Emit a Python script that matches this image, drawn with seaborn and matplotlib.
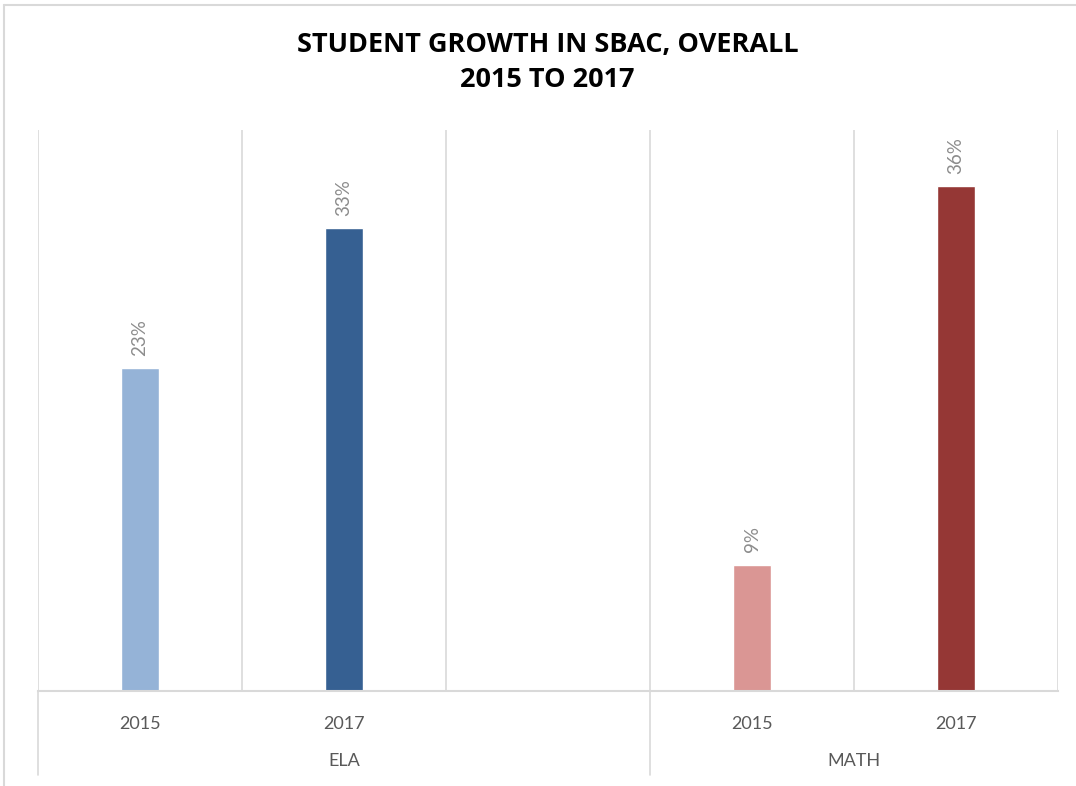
import pandas as pd
import matplotlib
matplotlib.use("Agg")
import matplotlib.pyplot as plt
import seaborn as sns
import numpy as np

# datos
materias = ["ELA", "ELA", "MATH", "MATH"]
anios = ["2015", "2017", "2015", "2017"]
porcentajes = [23, 33, 9, 36]
colores = ["#95B3D7", "#366092", "#DA9694", "#953735"]

# ranuras del eje x (una vacia entre ELA y MATH)
ranuras = ["ELA 2015", "ELA 2017", "", "MATH 2015", "MATH 2017"]
etiquetas_x = ["2015", "2017", "", "2015", "2017"]
grupos = ["ELA", "MATH"]

df = pd.DataFrame({
    "ranura": [m + " " + a for m, a in zip(materias, anios)],
    "valor": porcentajes,
})

sns.set_theme(style="white")
plt.rcParams["font.family"] = ["Lato", "DejaVu Sans"]

fig = plt.figure(figsize=(10.76, 7.86), dpi=100)
ax = fig.add_axes([0.0353, 0.1209, 0.948, 0.7137])

sns.barplot(data=df, x="ranura", y="valor", hue="ranura", order=ranuras,
            hue_order=df["ranura"].tolist(), palette=colores, width=0.186,
            legend=False, saturation=1, ax=ax)

for cont in ax.containers:
    ax.bar_label(cont, fmt="%.0f%%", rotation=90, padding=9,
                 fontsize=13.5, color="#8C8C8C")

ax.set_ylim(0, 40)
ax.set_xlim(-0.5, 4.5)
ax.set_yticks([])
ax.set_xlabel("")
ax.set_ylabel("")
ax.set_xticks(range(len(ranuras)))
ax.set_xticklabels(etiquetas_x, fontsize=13, color="#595959")
ax.tick_params(axis="x", length=0, pad=18)

# lineas verticales entre categorias
ax.set_xticks(np.arange(-0.5, len(ranuras)), minor=True)
ax.tick_params(axis="x", which="minor", length=0)
ax.grid(which="minor", axis="x", color="#D9D9D9", linewidth=1.2)
ax.grid(which="major", axis="x", visible=False)
ax.set_axisbelow(True)

for lado in ["top", "right", "left"]:
    ax.spines[lado].set_visible(False)
ax.spines["bottom"].set_color("#D9D9D9")
ax.spines["bottom"].set_linewidth(1.5)

# etiquetas de grupo y separadores
trans = ax.get_xaxis_transform()
for x, g in zip([1.0, 3.5], grupos):
    ax.text(x, -0.125, g, transform=trans, ha="center", va="center",
            fontsize=13, color="#595959")
for x in [-0.5, 2.5]:
    ax.plot([x, x], [0, -0.15], transform=trans, color="#D9D9D9",
            linewidth=1.2, clip_on=False)

fig.text(0.509, 0.920, "STUDENT GROWTH IN SBAC, OVERALL\n2015 TO 2017",
         ha="center", va="center", fontsize=19.5, fontweight="bold",
         color="black", linespacing=1.45, family=["Open Sans", "DejaVu Sans"])

# marco del grafico
fig.add_artist(plt.Line2D([0.004, 0.004], [0, 0.994], color="#D9D9D9", linewidth=1.5))
fig.add_artist(plt.Line2D([0.004, 1], [0.994, 0.994], color="#D9D9D9", linewidth=1.5))

fig.savefig("out.png", dpi=100)
